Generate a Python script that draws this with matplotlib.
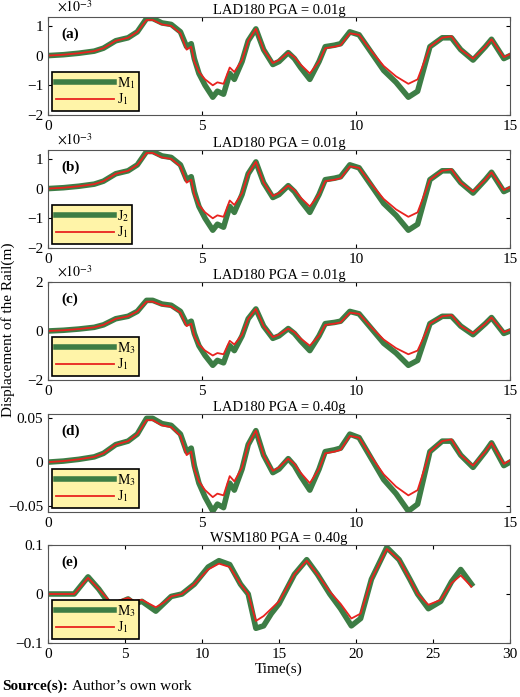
import matplotlib
matplotlib.use("Agg")
import matplotlib.pyplot as plt
import numpy as np

plt.rcParams['font.family'] = ['Liberation Serif', 'DejaVu Serif']
plt.rcParams['mathtext.fontset'] = 'stix'

t_lad = [0,0.5,1,1.5,1.8,2.2,2.6,2.9,3.2,3.4,3.7,4.0,4.3,4.5,4.65,4.75,4.9,5.1,5.35,5.5,5.7,5.9,6.05,6.3,6.5,6.75,7.0,7.3,7.5,7.8,8.0,8.2,8.5,8.8,9.0,9.3,9.5,9.8,10.1,10.5,10.9,11.3,11.7,12.0,12.4,12.8,13.1,13.4,13.8,14.2,14.4,14.8,15]
m_lad = [0,0.03,0.08,0.15,0.25,0.5,0.6,0.8,1.25,1.25,1.1,1.05,0.8,0.3,0.4,-0.1,-0.6,-1.0,-1.4,-1.2,-1.3,-0.6,-0.8,-0.2,0.5,0.9,0.2,-0.3,-0.2,0.1,-0.1,-0.4,-0.8,-0.2,0.3,0.35,0.4,0.8,0.7,0.1,-0.5,-0.9,-1.4,-1.2,0.3,0.6,0.6,0.2,-0.15,0.3,0.55,-0.1,0]
j_lad = [0,0.03,0.08,0.15,0.25,0.5,0.6,0.8,1.2,1.2,1.05,1.0,0.75,0.2,0.3,-0.2,-0.55,-0.8,-1.0,-0.9,-0.95,-0.4,-0.55,-0.15,0.5,0.9,0.2,-0.25,-0.15,0.1,-0.05,-0.3,-0.6,-0.2,0.25,0.3,0.35,0.75,0.7,0.15,-0.35,-0.7,-0.95,-0.8,0.3,0.6,0.65,0.2,-0.1,0.3,0.55,-0.05,0.05]

t_wsm = [0,1.7,2.6,3.3,4.1,5.2,5.6,6.1,7.0,7.5,8.0,8.7,9.5,10.4,11.1,11.8,12.5,13.0,13.5,14.0,14.5,15.0,16.0,16.8,17.5,18.3,19.0,19.7,20.3,21.0,22.0,22.8,23.5,24.0,24.7,25.5,26.2,26.8,27.5]
m_wsm = [0,0,0.035,0.01,-0.025,-0.01,-0.02,-0.015,-0.035,-0.02,-0.005,0,0.02,0.055,0.068,0.06,0.02,0.0,-0.07,-0.065,-0.04,-0.02,0.04,0.07,0.04,0.0,-0.03,-0.065,-0.05,0.03,0.095,0.07,0.03,0.0,-0.03,-0.015,0.025,0.05,0.02]
j_wsm = [0,0,0.033,0.01,-0.018,-0.008,-0.014,-0.012,-0.027,-0.018,-0.005,0,0.02,0.05,0.062,0.055,0.02,0.0,-0.055,-0.045,-0.03,-0.015,0.04,0.068,0.04,0.005,-0.02,-0.05,-0.04,0.03,0.092,0.07,0.03,0.0,-0.022,-0.012,0.022,0.038,0.015]

titles = ['LAD180 PGA = 0.01g']*3 + ['LAD180 PGA = 0.40g', 'WSM180 PGA = 0.40g']
letters = ['(a)','(b)','(c)','(d)','(e)']
green_labels = ['M$_1$','J$_2$','M$_3$','M$_3$','M$_3$']
scales = [1e-3, 1e-3, 1e-3, 0.04, 1]

W, H = 520, 697
fig = plt.figure(figsize=(5.2, 6.97), dpi=100)
tops = [17, 150, 282, 414, 545]
ht = 98
left, right = 48, 510
ylims = [(-2e-3,1.3e-3),(-2e-3,1.3e-3),(-2e-3,2e-3),(-0.057,0.055),(-0.1,0.1)]
yticks = [[-2e-3,-1e-3,0,1e-3]]*2 + [[-2e-3,0,2e-3],[-0.05,0,0.05],[-0.1,0,0.1]]
green = '#3d7d45'
red = '#e8231f'
for i in range(5):
    ax = fig.add_axes([left/W, 1-(tops[i]+ht)/H, (right-left)/W, ht/H])
    if i < 4:
        t = t_lad; m = np.array(m_lad)*scales[i]; j = np.array(j_lad)*scales[i]
        ax.set_xlim(0, 15); ax.set_xticks([0,5,10,15])
    else:
        t = t_wsm; m = m_wsm; j = j_wsm
        ax.set_xlim(0, 30); ax.set_xticks([0,5,10,15,20,25,30])
        ax.set_xlabel('Time(s)', fontsize=11, labelpad=1)
    ax.plot(t, m, color=green, lw=4, label=green_labels[i], solid_joinstyle='round')
    ax.plot(t, j, color=red, lw=1.3, label='J$_1$')
    ax.set_ylim(*ylims[i]); ax.set_yticks(yticks[i])
    if i < 3:
        ax.set_yticklabels(['−2','−1','0','1'] if i < 2 else ['−2','0','2'])
        ax.text(0.02, 1.02, r'$\times10^{-3}$', transform=ax.transAxes, fontsize=10, va='bottom')
    elif i == 3:
        ax.set_yticklabels(['−0.05','0','0.05'])
    else:
        ax.set_yticklabels(['−0.1','0','0.1'])
    ax.set_title(titles[i], fontsize=10.5, pad=2)
    ax.text(0.03, 0.82, letters[i], transform=ax.transAxes, fontsize=11, fontweight='bold', va='center')
    ax.tick_params(direction='in', labelsize=11, top=True, right=True, length=3)
    for s in ax.spines.values():
        s.set_color('#555555')
    leg = ax.legend(loc='lower left', fontsize=10, fancybox=False, framealpha=1,
                    facecolor='#fff4a8', edgecolor='black', handlelength=4.2,
                    borderpad=0.25, labelspacing=0.05, handletextpad=0.2, borderaxespad=0.3)
    leg.get_frame().set_linewidth(1.2)

fig.text(8/W, 1-330/H, 'Displacement of the Rail(m)', rotation=90, va='center', ha='center', fontsize=11)
fig.text(2/W, 1-686/H, 'Source(s):', fontsize=11, fontweight='bold', va='center')
fig.text(72/W, 1-686/H, 'Author’s own work', fontsize=11, va='center')
fig.savefig('out.png', dpi=100)
